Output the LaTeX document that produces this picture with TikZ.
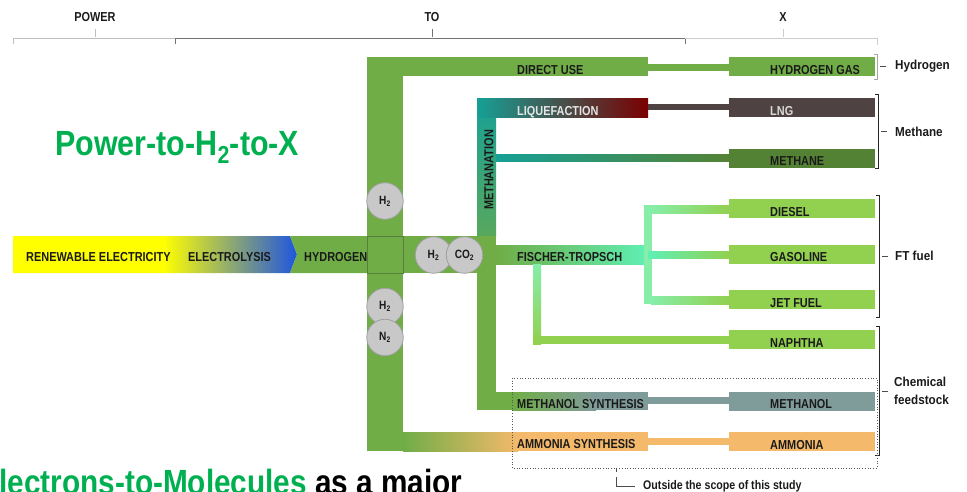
\documentclass[tikz,border=0pt]{standalone}
\usepackage{fontspec}
\setmainfont{Liberation Sans}
\newfontfamily\nb[FakeStretch=0.84]{Liberation Sans}
\newfontfamily\nc[FakeStretch=0.9]{Liberation Sans}
\newfontfamily\nt[FakeStretch=0.87]{Liberation Sans}
\newfontfamily\ns[FakeStretch=0.85]{Liberation Sans}
\definecolor{pg}{HTML}{70AD47}
\definecolor{yel}{HTML}{FFFF00}
\definecolor{blu}{HTML}{1F55E0}
\definecolor{teal}{HTML}{16A096}
\definecolor{tealg}{HTML}{58A85E}
\definecolor{dred}{HTML}{7A0000}
\definecolor{lngc}{HTML}{4E4242}
\definecolor{methc}{HTML}{548235}
\definecolor{mint}{HTML}{5EF0B4}
\definecolor{mintb}{HTML}{86EEA8}
\definecolor{ftg}{HTML}{92D050}
\definecolor{molc}{HTML}{809C9A}
\definecolor{ammc}{HTML}{F4B96A}
\definecolor{ttl}{HTML}{00B050}
\definecolor{circ}{HTML}{C8C8C8}
\definecolor{circd}{HTML}{A0A0A0}
\definecolor{sqd}{HTML}{587F3E}
\definecolor{txt}{HTML}{1A1A1A}
\begin{document}
\begin{tikzpicture}[x=1pt,y=-1pt,
  lab/.style={font=\nb\bfseries\fontsize{13}{15}\selectfont, text=txt, inner sep=0pt, anchor=base west},
  hdr/.style={font=\nb\bfseries\fontsize{13}{15}\selectfont, text=txt, inner sep=0pt},
  rlab/.style={font=\nc\bfseries\fontsize{13}{18}\selectfont, text=txt, inner sep=0pt, anchor=west, align=left},
  box/.style={draw=none, inner sep=0pt, minimum width=146pt, minimum height=19pt, anchor=west},
  gas/.style={circle, fill=circ, draw=circd, line width=0.8pt, minimum size=36.5pt, inner sep=0pt, text=txt, font=\nb\bfseries\fontsize{12}{14}\selectfont},
  conn/.style={line width=7.5pt},
  brk/.style={line width=0.7pt, draw=black!85},
  big/.style={font=\nt\bfseries\fontsize{35}{40}\selectfont, inner sep=0pt, anchor=base west}
]
\useasboundingbox (0,0) rectangle (967,491);
\clip (0,0) rectangle (967,491);

% header
\node[hdr] (power) at (95,17) {POWER};
\node[hdr] (to) at (432,17) {TO};
\node[hdr] (xx) at (783,17) {X};
\draw[black!25, line width=0.6pt] (13,44) -- (13,38) -- (175,38);
\draw[black!25, line width=0.6pt] (95,29) -- (95,37);
\draw[black!55, line width=0.7pt] (175,44) -- (175,38) -- (685,38) -- (685,44);
\draw[black!55, line width=0.7pt] (432,29) -- (432,37);
\draw[black!20, line width=0.6pt] (685,38) -- (877,38) -- (877,45);
\draw[black!20, line width=0.6pt] (783,29) -- (783,37);

% title
\node[big, text=ttl] (title) at (55,155) {Power-to-H\textsubscript{2}-to-X};

% input arrow
\fill[yel] (13,236) -- (163,236) -- (168,254.5) -- (163,273) -- (13,273) -- cycle;
\shade[left color=yel, right color=blu] (163,236) -- (290,236) -- (297,254.5) -- (290,273) -- (163,273) -- (168,254.5) -- cycle;
\fill[pg] (290,236) -- (367,236) -- (367,273) -- (290,273) -- (297,254.5) -- cycle;

% central bands
\fill[pg] (367,57) rectangle (403,451);
\fill[pg] (367,57) rectangle (648,76);
\fill[pg] (403,236) rectangle (477,273);
\shade[left color=pg, right color=ammc] (403,432) rectangle (518,451);
\fill[ammc] (517,432) rectangle (648,451);

% methanation
\shade[top color=teal, bottom color=tealg] (477,98) rectangle (496,236);
\fill[pg] (477,235.5) rectangle (496,410);
\shade[left color=teal, right color=dred] (477,98) rectangle (648,117);
\shade[left color=teal, right color=methc] (496,154.5) rectangle (729,161.5);
\fill[pg] (477,392) rectangle (514,410);
\shade[left color=pg, right color=molc] (513,392) rectangle (596,410);
\fill[molc] (595,392) rectangle (648,410);

% Fischer-Tropsch
\shade[left color=pg, right color=mint] (496,245) rectangle (648,264);
\fill[mintb] (644,205) rectangle (652,304);
\shade[left color=mintb, right color=ftg] (651,205) rectangle (729,213);
\shade[left color=mint, right color=ftg] (648,251) rectangle (729,258.5);
\shade[left color=mintb, right color=ftg] (651,296) rectangle (729,304);
\shade[top color=mintb, bottom color=ftg] (533,264) rectangle (541,344);
\fill[ftg] (533,336) rectangle (729,344);

% central square
\draw[sqd, line width=0.8pt] (367,236) rectangle (403,273);

% product boxes
\node[box, fill=pg] (hgas) at (729,66.5) {};
\node[box, fill=lngc] (lng) at (729,107.5) {};
\node[box, fill=methc] (meth) at (729,158) {};
\node[box, fill=ftg] (dies) at (729,208.75) {};
\node[box, fill=ftg] (gaso) at (729,254.25) {};
\node[box, fill=ftg] (jet) at (729,299.5) {};
\node[box, fill=ftg] (naph) at (729,339.75) {};
\node[box, fill=molc] (mol) at (729,401) {};
\node[box, fill=ammc] (amm) at (729,441.5) {};

% thin connectors
\coordinate (duend) at (648,67.25);
\coordinate (lqend) at (648,106.75);
\coordinate (msend) at (648,400.5);
\coordinate (asend) at (648,441.25);
\draw[conn, pg] (duend) -- (hgas.west |- duend);
\draw[conn, lngc, line width=6.5pt] (lqend) -- (lng.west |- lqend);
\draw[conn, molc] (msend) -- (mol.west |- msend);
\draw[conn, ammc] (asend) -- (amm.west |- asend);

% band labels
\node[lab] (ren) at (26,261.7) {RENEWABLE ELECTRICITY};
\node[lab] (ely) at (188,261.7) {ELECTROLYSIS};
\node[lab] (hyd) at (304,261.7) {HYDROGEN};
\node[lab] (du) at (517,74.5) {DIRECT USE};
\node[lab, text=white!90!black] (lq) at (517,115) {LIQUEFACTION};
\node[lab] (ft) at (517,261.7) {FISCHER-TROPSCH};
\node[lab] (ms) at (517,408.3) {METHANOL SYNTHESIS};
\node[lab] (as) at (517,448.5) {AMMONIA SYNTHESIS};
\node[lab, anchor=center, rotate=90] (mtn) at (489,170) {METHANATION};

% box labels
\node[lab] at (770,74.5) {HYDROGEN GAS};
\node[lab, text=white!85!black] at (770,115) {LNG};
\node[lab] at (770,165.5) {METHANE};
\node[lab] at (770,216) {DIESEL};
\node[lab] at (770,261.5) {GASOLINE};
\node[lab] at (770,307) {JET FUEL};
\node[lab] at (770,347) {NAPHTHA};
\node[lab] at (770,408.5) {METHANOL};
\node[lab] at (770,449) {AMMONIA};

% gas circles
\node[gas] (h2a) at (385,201) {H\textsubscript{2}};
\node[gas] (h2b) at (433.5,255) {H\textsubscript{2}};
\node[gas] (co2) at (464.5,255) {CO\textsubscript{2}};
\node[gas] (h2c) at (385,306.5) {H\textsubscript{2}};
\node[gas] (n2) at (385,337.5) {N\textsubscript{2}};

% right brackets
\draw[black!35, line width=0.6pt] (874,54) -- (877,54) -- (877,79) -- (874,79);
\draw[black!70, line width=0.6pt] (880,66) -- (886,66);
\node[rlab] (lh) at (895,66) {Hydrogen};
\draw[brk] (875,94) -- (878,94) -- (878,168) -- (875,168);
\draw[black!70, line width=0.6pt] (881,131.5) -- (887,131.5);
\node[rlab] (lm) at (895,131.5) {Methane};
\draw[brk] (876,195) -- (879,195) -- (879,317) -- (876,317);
\draw[black!70, line width=0.6pt] (882,256) -- (888,256);
\node[rlab] (lf) at (895,256) {FT fuel};
\draw[brk] (876,326) -- (879,326) -- (879,455) -- (875,455);
\draw[black!70, line width=0.6pt] (882,391) -- (888,391);
\node[rlab] (lc) at (894,391) {Chemical\\feedstock};

% scope box
\draw[black!65, dotted, line width=0.7pt] (512,378) rectangle (877,468);
\draw[black!70, line width=0.6pt] (616,468) -- (616,472);
\coordinate (scl) at (616,477);
\coordinate (scc) at (616,486);
\node[font=\ns\bfseries\fontsize{12.5}{14}\selectfont, text=txt, inner sep=0pt, anchor=west] (scope) at (643,486) {Outside the scope of this study};
\draw[black!70, line width=0.6pt] (scl) -- (scc) -- ++(19,0);

% cut-off footer text
\node[big, font=\ns\bfseries\fontsize{35}{40}\selectfont] (foot) at (-20.5,494) {\textcolor{ttl}{Electrons-to-Molecules} as a major};
\end{tikzpicture}
\end{document}
